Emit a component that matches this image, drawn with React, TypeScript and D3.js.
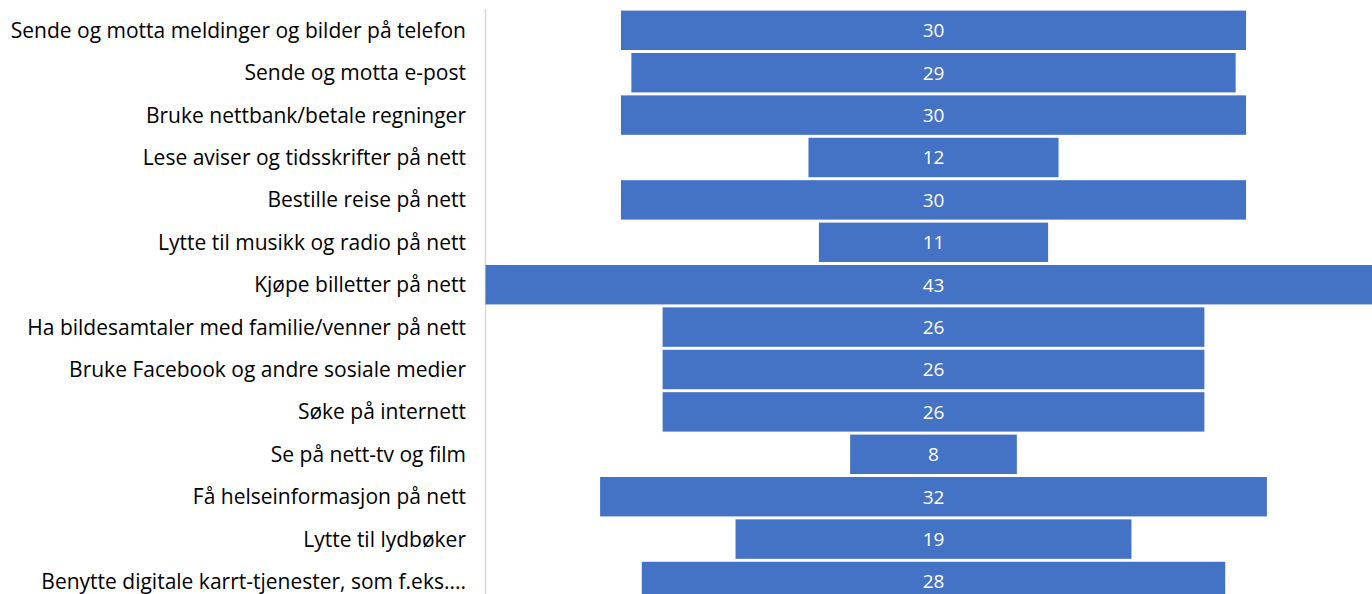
import * as d3 from "d3";
import { useEffect, useRef } from "react";

const categories = [
  "Sende og motta meldinger og bilder på telefon",
  "Sende og motta e-post",
  "Bruke nettbank/betale regninger",
  "Lese aviser og tidsskrifter på nett",
  "Bestille reise på nett",
  "Lytte til musikk og radio på nett",
  "Kjøpe billetter på nett",
  "Ha bildesamtaler med familie/venner på nett",
  "Bruke Facebook og andre sosiale medier",
  "Søke på internett",
  "Se på nett-tv og film",
  "Få helseinformasjon på nett",
  "Lytte til lydbøker",
  "Benytte digitale karrt-tjenester, som f.eks....",
];

const values = [30, 29, 30, 12, 30, 11, 43, 26, 26, 26, 8, 32, 19, 28];

export default function App() {
  const ref = useRef<SVGSVGElement | null>(null);

  useEffect(() => {
    const svg = d3.select(ref.current);
    svg.selectAll("*").remove();

    const width = 1372;
    const height = 594;
    const centerX = 933.5;
    const labelX = 466;
    const axisX = 485.5;
    const font = "'Open Sans', Lato, sans-serif";

    svg.attr("width", width).attr("height", height);

    const y = d3
      .scaleBand<string>()
      .domain(categories)
      .range([9.1, 9.1 + 42.4 * categories.length])
      .paddingInner(0.07)
      .paddingOuter(0.035);

    const w = d3.scaleLinear().domain([0, 43]).range([0, 896]);

    // axis line
    svg
      .append("line")
      .attr("x1", axisX)
      .attr("x2", axisX)
      .attr("y1", 9)
      .attr("y2", height)
      .attr("stroke", "#d9d9d9")
      .attr("stroke-width", 1.5);

    const rows = svg
      .selectAll("g.row")
      .data(categories)
      .enter()
      .append("g")
      .attr("class", "row");

    rows
      .append("rect")
      .attr("x", (_, i) => centerX - w(values[i]) / 2)
      .attr("y", (d) => y(d) as number)
      .attr("width", (_, i) => w(values[i]))
      .attr("height", y.bandwidth())
      .attr("fill", "#4472C4");

    rows
      .append("text")
      .attr("x", centerX)
      .attr("y", (d) => (y(d) as number) + y.bandwidth() / 2)
      .attr("dy", "0.36em")
      .attr("text-anchor", "middle")
      .attr("fill", "white")
      .style("font-family", font)
      .style("font-size", "19px")
      .text((_, i) => values[i]);

    rows
      .append("text")
      .attr("x", labelX)
      .attr("y", (d) => (y(d) as number) + y.bandwidth() / 2)
      .attr("dy", "0.36em")
      .attr("text-anchor", "end")
      .attr("fill", "#000")
      .style("font-family", font)
      .style("font-size", "21px")
      .text((d) => d);
  }, []);

  return (
    <svg
      ref={ref}
      style={{ position: "fixed", left: 0, top: 0, background: "white" }}
    ></svg>
  );
}
